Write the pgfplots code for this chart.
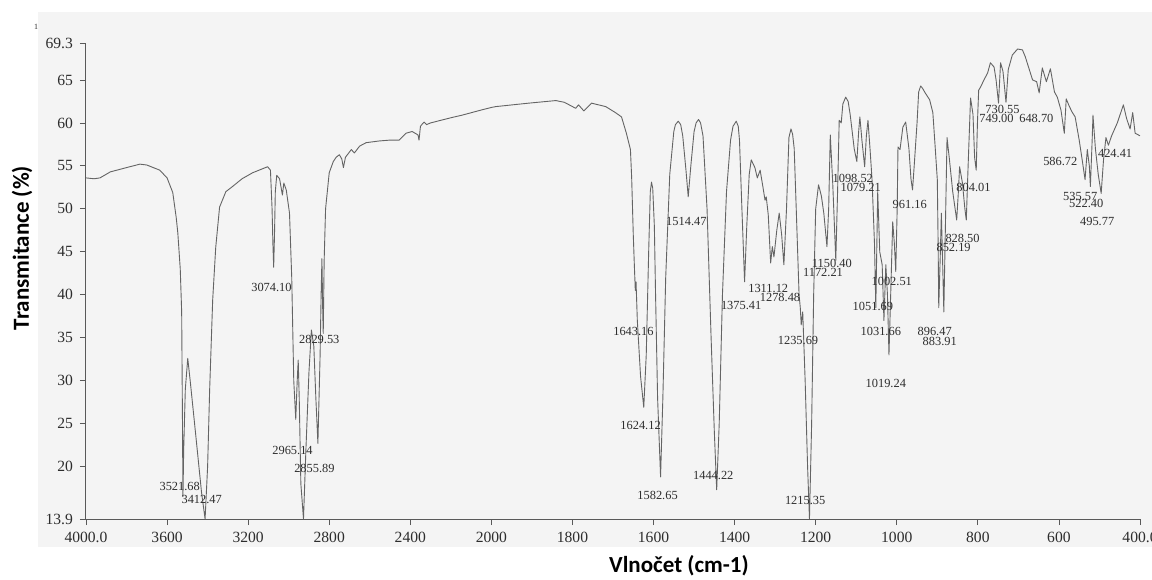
\documentclass[border=0pt]{standalone}
\usepackage{fontspec}
\setmainfont{Liberation Serif}
\newfontfamily\lblfont{Carlito}
\usepackage{pgfplots}
\pgfplotsset{compat=1.18}
\definecolor{scanbg}{RGB}{244,244,244}
\definecolor{trace}{RGB}{100,100,100}
\definecolor{ink}{RGB}{45,45,45}
% peak label: #1 peak wavenumber (also the text), #2,#3 label centre
\newcommand\pk[3]{%
  \node[font=\fontsize{6.2}{7}\selectfont,text=ink,inner sep=0pt] at (axis cs:#2,#3) {#1};%
  \draw[trace!80,line width=0.3pt,densely dashed] (axis cs:#1,#3) ++(0,4pt) -- ++(0,6pt);%
}
\begin{document}
\begin{tikzpicture}
\useasboundingbox (0,0) rectangle (576pt,289.5pt);
\fill[scanbg] (19pt,16pt) rectangle (576pt,283.5pt);
\node[font=\fontsize{4}{5}\selectfont,text=ink] at (18pt,276pt) {1};
\begin{axis}[
  at={(43pt,30pt)}, anchor=south west,
  scale only axis, width=527pt, height=238pt,
  x coord trafo/.code={\pgfmathparse{#1>=2000 ? (4000-#1)/2 : 3000-#1}},
  xmin=4000, xmax=400, ymin=13.9, ymax=69.3,
  axis lines=left, axis line style={-, draw=black!65, line width=0.5pt},
  xtick={4000,3600,3200,2800,2400,2000,1800,1600,1400,1200,1000,800,600,400},
  xticklabels={4000.0,3600,3200,2800,2400,2000,1800,1600,1400,1200,1000,800,600,400.0},
  ytick={13.9,20,25,30,35,40,45,50,55,60,65,69.3},
  yticklabels={13.9,20,25,30,35,40,45,50,55,60,65,69.3},
  tick align=outside, major tick length=3pt,
  tick style={black!65, line width=0.4pt},
  ticklabel style={font=\fontsize{7.8}{9}\selectfont, text=ink},
  clip=false,
]
\addplot[trace, line width=0.45pt, line join=round] coordinates {
(4000,53.6)(3960,53.5)(3931,53.6)(3880,54.3)(3800,54.8)(3734,55.2)(3700,55.1)(3636,54.5)(3600,53.6)(3572,51.9)(3555,49.0)(3547,47.2)(3535,43.0)(3528,38.0)(3524,25.0)(3521.68,16.5)(3518,22.0)(3510,29.0)(3498,32.6)(3486,30.0)(3460,24.0)(3430,17.0)(3412.47,13.9)(3400,20.0)(3390,28.9)(3375,39.4)(3360,45.5)(3341,50.2)(3310,52.0)(3277,52.6)(3230,53.5)(3178,54.2)(3104,54.9)(3090,54.5)(3082,50.0)(3078,46.0)(3074.10,43.2)(3070,47.0)(3066,52.0)(3059,53.9)(3045,53.5)(3031,51.6)(3024,53.0)(3012,52.2)(2996,49.5)(2985,42.0)(2975,30.0)(2965.14,25.5)(2958,30.0)(2953,32.4)(2948,28.0)(2940,18.0)(2927,13.9)(2915,22.0)(2900,31.0)(2888,35.9)(2876,34.0)(2866,28.0)(2855.89,22.7)(2845,33)(2840,40.0)(2836,44.2)(2832,38.0)(2829.53,35.5)(2825,44.0)(2818,50.0)(2800,54.2)(2780,55.5)(2766,56.0)(2750,56.3)(2738,55.8)(2730,54.8)(2720,56.0)(2691,56.9)(2676,56.5)(2650,57.3)(2618,57.7)(2553,57.9)(2500,58.0)(2455,58.0)(2421,58.8)(2391,59.0)(2362,58.6)(2357,58.0)(2350,59.6)(2340,59.9)(2332,60.1)(2320,59.8)(2300,60.0)(2200,60.6)(2145,60.9)(2050,61.5)(2000,61.8)
(1989,61.9)(1908,62.3)(1841,62.6)(1820,62.4)(1804,62.0)(1792,61.7)(1785,62.1)(1772,61.4)(1753,62.3)(1718,61.9)(1694,61.2)(1679,60.7)(1667,58.8)(1657,56.9)(1654,53.7)(1650,47.0)(1647,43.0)(1645,40.5)(1643.16,41.5)(1640,37.0)(1632,30.5)(1624.12,26.9)(1618,33.0)(1612,45.0)(1608,52.0)(1605,53.1)(1602,52.4)(1598,48.0)(1595,40.0)(1590,28.0)(1582.65,18.8)(1577,28.0)(1570,42.0)(1560,54.0)(1550,59.0)(1546,59.8)(1539,60.2)(1533,59.8)(1528,58.5)(1520,54.5)(1514.47,51.4)(1508,55.0)(1500,59.0)(1495,60.0)(1489,60.4)(1484,60.0)(1478,58.5)(1468,50.0)(1458,35.0)(1450,24.0)(1444.22,17.3)(1438,25.0)(1430,40.0)(1420,52.0)(1410,58.0)(1404,59.6)(1396,60.2)(1391,59.6)(1388,58.0)(1382,50.0)(1375.41,41.5)(1370,48.0)(1364,54.0)(1359,55.7)(1350,54.8)(1344,53.6)(1337,54.5)(1330,52.5)(1325,51.0)(1322,51.4)(1317,49.3)(1311.12,43.7)(1307,45.6)(1303,44.4)(1296,47.5)(1290,49.5)(1284,47.0)(1278.48,43.5)(1272,50.0)(1266,58.3)(1261,59.3)(1257,58.7)(1253,57.0)(1248,50.0)(1241,40.0)(1238,38.5)(1235.69,36.5)(1232,38.0)(1226,30.0)(1220,20.0)(1215.35,13.9)(1210,25.0)(1205,40.0)(1200,50.0)(1193,52.8)(1186,51.5)(1180,49.5)(1172.21,45.6)(1168,50.0)(1164,58.6)(1158,53.0)(1150.40,44.0)(1146,52.0)(1142,60.3)(1137,60.0)(1133,62.2)(1126,63.0)(1120,62.5)(1115,61.0)(1105,57.0)(1098.52,55.5)(1094,59.0)(1091,60.7)(1086,58.0)(1079.21,54.9)(1075,58.5)(1071,60.3)(1066,57.0)(1061,53.4)(1055,46.0)(1051.69,38.5)(1047,52.0)(1042,45.0)(1036,43.5)(1031.66,37.0)(1027,43.5)(1023,40.0)(1019.24,33.0)(1015,40.0)(1010,48.5)(1006,46.0)(1002.51,42.7)(999,50.0)(997,57.2)(992,56.9)(985,59.5)(978,60.1)(970,57.0)(965,53.5)(961.16,52.2)(957,55.0)(950,60.0)(946,63.6)(941,64.3)(936,64.0)(930,63.5)(919,62.7)(911,61.2)(905,57.0)(900,53.4)(898,46.0)(896.47,38.5)(893,44.0)(890,49.5)(887,44.0)(883.91,38.0)(880,48.0)(876,58.3)(870,55.7)(862,52.0)(852.19,48.7)(848,52.0)(845,54.9)(838,53.0)(832,50.0)(828.50,48.7)(824,55.0)(818,62.9)(812,61.0)(808,56.0)(804.01,54.5)(801,60.0)(798,63.8)(793,64.2)(785,65.0)(776,65.8)(769,67.0)(760,66.5)(755,65.0)(749.00,62.3)(744,67.0)(738,66.0)(730.55,62.4)(725,66.2)(715,67.9)(702,68.6)(690,68.5)(683,67.7)(673,66.2)(665,65.0)(655,64.8)(648.70,63.5)(641,66.4)(631,64.8)(621,66.3)(611,63.6)(604,63.0)(595,61.5)(586.72,58.8)(582,62.8)(575,62.0)(568,61.3)(560,60.7)(550,58.0)(542,55.5)(535.57,53.4)(530,56.9)(525,55.0)(522.40,52.6)(518,58.0)(516,60.9)(510,57.0)(503,54.0)(495.77,51.8)(490,55.7)(484,58.3)(478,57.4)(470,58.5)(456,60.0)(441,62.1)(433,60.5)(424.41,59.3)(418,61.2)(412,58.8)(400,58.5)
};
\pk{3521.68}{3537.5}{17.74}
\pk{3412.47}{3429}{16.23}
\pk{3074.10}{3085}{40.79}
\pk{2965.14}{2981}{21.82}
\pk{2855.89}{2873}{19.84}
\pk{2829.53}{2849}{34.85}
\pk{1643.16}{1649.5}{35.67}
\pk{1624.12}{1632}{24.73}
\pk{1582.65}{1590}{16.69}
\pk{1514.47}{1519}{48.47}
\pk{1444.22}{1452.6}{19.02}
\pk{1375.41}{1383.8}{38.70}
\pk{1311.12}{1317}{40.68}
\pk{1278.48}{1288}{39.74}
\pk{1235.69}{1243.6}{34.62}
\pk{1215.35}{1226}{16.0}
\pk{1172.21}{1182}{42.54}
\pk{1150.40}{1160}{43.59}
\pk{1098.52}{1108.5}{53.48}
\pk{1079.21}{1088.9}{52.43}
\pk{1002.51}{1012.3}{41.49}
\pk{1051.69}{1059}{38.58}
\pk{1031.66}{1039.4}{35.67}
\pk{1019.24}{1027}{29.73}
\pk{961.16}{968}{50.45}
\pk{896.47}{906.5}{35.67}
\pk{883.91}{894}{34.62}
\pk{852.19}{859.8}{45.45}
\pk{828.50}{837.7}{46.50}
\pk{804.01}{810.7}{52.43}
\pk{749.00}{754}{60.47}
\pk{730.55}{739.3}{61.51}
\pk{648.70}{655.6}{60.47}
\pk{586.72}{596.6}{55.46}
\pk{535.57}{547.4}{51.39}
\pk{522.40}{532.6}{50.57}
\pk{495.77}{505.6}{48.47}
\pk{424.41}{461.4}{56.39}
\end{axis}
\node[font=\lblfont\bfseries\fontsize{11.5}{13}\selectfont, rotate=90] at (11pt,165.5pt) {Transmitance (\%)};
\node[font=\lblfont\bfseries\fontsize{11.5}{13}\selectfont] at (339.5pt,6.5pt) {Vlnočet (cm-1)};
\end{tikzpicture}
\end{document}
